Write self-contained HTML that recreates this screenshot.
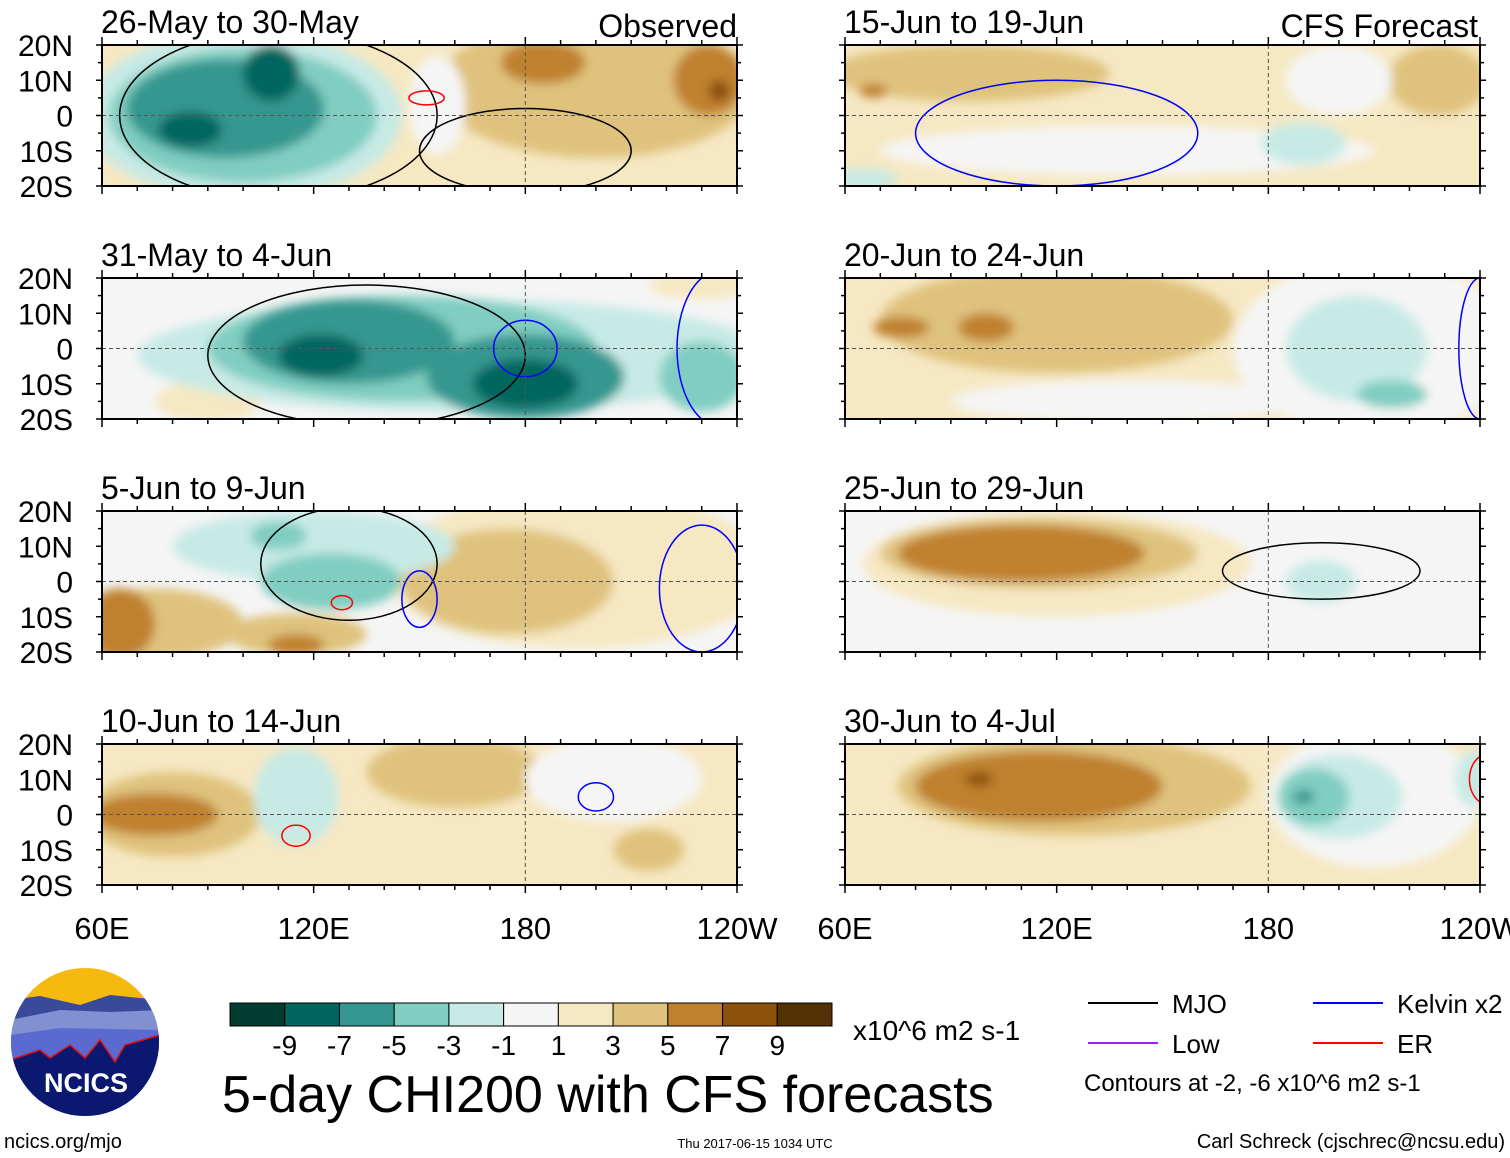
<!DOCTYPE html>
<html><head><meta charset="utf-8"><style>
body{margin:0;background:#fff;width:1510px;height:1158px;overflow:hidden;font-family:"Liberation Sans",sans-serif}
svg{position:absolute;left:0;top:0}
</style></head><body>
<svg id="chart" width="1510" height="1158">
<defs><filter id="blur" x="-20%" y="-20%" width="140%" height="140%"><feGaussianBlur stdDeviation="5"/></filter></defs>
<g id="panels"></g>
<g id="legend"></g>
</svg>
<script>
const levelColors=["#003c30","#01665e","#35978f","#80cdc1","#c7eae5","#f5f5f5","#f6e8c3","#dfc27d","#bf812d","#8c510a","#543005"];
const colorbarTicks=["-9","-7","-5","-3","-1","1","3","5","7","9"];
const latTicks=[20,10,0,-10,-20];
const latLabels=["20N","10N","0","10S","20S"];
const lonTicks=[60,120,180,240];
const lonLabels=["60E","120E","180","120W"];
const panelTitles=["26-May to 30-May","31-May to 4-Jun","5-Jun to 9-Jun","10-Jun to 14-Jun","15-Jun to 19-Jun","20-Jun to 24-Jun","25-Jun to 29-Jun","30-Jun to 4-Jul"];
const panelBg=[6,5,5,6,6,6,5,6];
// anomaly blobs: [lon, lat, lon-radius, lat-radius, level]
const blobs0=[[200,8,45,20,7],[185,15,12,6,8],[232,10,10,10,8],[235,7,3,3,9],[155,3,8,14,5],[100,0,45,24,4],[100,0,38,19,3],[95,2,28,14,2],[85,-4,9,5,1],[108,12,8,8,1]];
const blobs1=[[230,18,15,4,6],[90,-15,15,6,6],[160,-2,90,16,4],[145,0,55,15,3],[130,2,30,12,2],[122,-2,12,6,1],[180,-8,28,12,2],[180,-10,15,7,1],[230,-8,12,10,3]];
const blobs2=[[195,3,55,22,6],[175,0,30,15,7],[75,-12,25,10,7],[65,-12,10,10,8],[115,-15,20,6,7],[115,-18,8,3,8],[120,10,40,10,4],[125,0,20,8,3],[110,13,8,4,3]];
const blobs3=[[80,0,25,12,7],[75,0,18,6,8],[160,12,25,10,7],[215,-10,10,6,7],[205,10,25,12,5],[115,5,12,14,4]];
const blobs4=[[95,12,40,8,7],[68,7,4,2,8],[228,10,14,10,7],[140,-10,70,7,5],[200,10,15,10,5],[190,-8,12,6,4],[65,-18,10,3,4]];
const blobs5=[[120,8,50,15,7],[76,6,8,3,8],[100,6,8,4,8],[140,-15,50,6,5],[210,0,40,25,5],[205,0,20,15,4],[215,-13,10,4,3]];
const blobs6=[[120,5,55,15,6],[115,8,45,10,7],[110,8,35,8,8],[195,0,10,6,4]];
const blobs7=[[125,8,50,14,7],[115,8,35,10,8],[98,10,4,2,9],[210,5,30,20,5],[200,5,18,12,4],[193,5,10,8,3],[190,5,3,2,2],[238,10,5,8,4]];
const allBlobs=[blobs0,blobs1,blobs2,blobs3,blobs4,blobs5,blobs6,blobs7];
// contours: [lon, lat, lon-radius, lat-radius, colour]
const contours0=[[110,0,45,24,'#000'],[180,-10,30,12,'#000'],[152,5,5,2,'#f00']];
const contours1=[[135,-2,45,20,'#000'],[180,0,9,8,'#00f'],[235,0,12,22,'#00f']];
const contours2=[[130,5,25,16,'#000'],[150,-5,5,8,'#00f'],[128,-6,3,2,'#f00'],[230,-2,12,18,'#00f']];
const contours3=[[115,-6,4,3,'#f00'],[200,5,5,4,'#00f']];
const contours4=[[120,-5,40,15,'#00f']];
const contours5=[[240,0,6,20,'#00f']];
const contours6=[[195,3,28,8,'#000']];
const contours7=[[242,10,5,7,'#f00']];
const allContours=[contours0,contours1,contours2,contours3,contours4,contours5,contours6,contours7];

const NS="http://www.w3.org/2000/svg";
function mk(tag,attrs,parent){const e=document.createElementNS(NS,tag);for(const k in attrs)e.setAttribute(k,attrs[k]);parent.appendChild(e);return e;}
const colX=[102,845], rowY=[45,278,511,744], W=635, H=141;
const panels=document.getElementById('panels');
for(let p=0;p<8;p++){
  const x0=colX[p<4?0:1], y0=rowY[p%4];
  const xs=lon=>x0+(lon-60)/180*W, ys=lat=>y0+(20-lat)/40*H;
  const g=mk('g',{},panels);
  
  
  const cp=mk('clipPath',{id:'c'+p},g); mk('rect',{x:x0,y:y0,width:W,height:H},cp);
  const fg=mk('g',{'clip-path':'url(#c'+p+')'},g);
  mk('rect',{x:x0-20,y:y0-20,width:W+40,height:H+40,fill:levelColors[panelBg[p]]},fg);
  const bg=mk('g',{filter:'url(#blur)'},fg);
  allBlobs[p].forEach(b=>{
    const e=mk('ellipse',{cx:xs(b[0]),cy:ys(b[1]),rx:b[2]/180*W,ry:b[3]/40*H,fill:levelColors[b[4]]},bg);
    
    
  });
  allContours[p].forEach(c=>{
    const e=mk('ellipse',{cx:xs(c[0]),cy:ys(c[1]),rx:c[2]/180*W,ry:c[3]/40*H,fill:'none',stroke:c[4],'stroke-width':1.5},fg);
    
    
  });
  mk('line',{x1:x0,x2:x0+W,y1:ys(0),y2:ys(0),stroke:'#555','stroke-dasharray':'4,3','stroke-width':1},fg);
  mk('line',{x1:xs(180),x2:xs(180),y1:y0,y2:y0+H,stroke:'#555','stroke-dasharray':'4,3','stroke-width':1},fg);
  mk('rect',{x:x0,y:y0,width:W,height:H,fill:'none',stroke:'#000','stroke-width':2},g);
  for(let lon=60;lon<=240;lon+=10){const maj=(lon%60===0);const l=maj?8:5;
    mk('line',{x1:xs(lon),x2:xs(lon),y1:y0,y2:y0-l,stroke:'#000','stroke-width':1.5},g);
    mk('line',{x1:xs(lon),x2:xs(lon),y1:y0+H,y2:y0+H+l,stroke:'#000','stroke-width':1.5},g);}
  for(let lat=-20;lat<=20;lat+=5){const l=(lat%10===0)?6:4;
    mk('line',{x1:x0,x2:x0-l,y1:ys(lat),y2:ys(lat),stroke:'#000','stroke-width':1.5},g);
    mk('line',{x1:x0+W,x2:x0+W+l,y1:ys(lat),y2:ys(lat),stroke:'#000','stroke-width':1.5},g);}
  const t=mk('text',{x:x0-1,y:y0-12,'font-size':32},g);t.textContent=panelTitles[p];
  
  
  if(p<4){latTicks.forEach((lat,i)=>{const tt=mk('text',{x:73,y:ys(lat)+11,'font-size':30,'text-anchor':'end'},g);tt.textContent=latLabels[i];
    
    });}
  if(p%4===3){lonTicks.forEach((lon,i)=>{const tt=mk('text',{x:xs(lon),y:939,'font-size':31,'text-anchor':'middle'},g);tt.textContent=lonLabels[i];
    
    });}
}
const lg=document.getElementById('legend');
function txt(s,a){const t=mk('text',a,lg);t.textContent=s;return t;}
txt('Observed',{x:737,y:37,'font-size':32,'text-anchor':'end'});
txt('CFS Forecast',{x:1478,y:37,'font-size':32,'text-anchor':'end'});
const cbw=602/11;
levelColors.forEach((c,i)=>{const r=mk('rect',{x:230+i*cbw,y:1003,width:cbw,height:23,fill:c,stroke:'#000','stroke-width':1},lg);
  
  });
colorbarTicks.forEach((s,i)=>txt(s,{x:230+(i+1)*cbw,y:1055,'font-size':28,'text-anchor':'middle'}));
txt('x10^6 m2 s-1',{x:853,y:1040,'font-size':28});
txt('5-day CHI200 with CFS forecasts',{x:222,y:1112,'font-size':52});
const leg=[['MJO','#000',1088,1003],['Kelvin x2','#0000ff',1313,1003],['Low','#a020f0',1088,1043],['ER','#ff0000',1313,1043]];
leg.forEach(l=>{const ln=mk('line',{x1:l[2],x2:l[2]+70,y1:l[3],y2:l[3],stroke:l[1],'stroke-width':2},lg);
  
  
  txt(l[0],{x:l[2]+84,y:l[3]+10,'font-size':26});});
txt('Contours at -2, -6 x10^6 m2 s-1',{x:1084,y:1091,'font-size':24});
txt('ncics.org/mjo',{x:4,y:1148,'font-size':20});
txt('Thu 2017-06-15 1034 UTC',{x:755,y:1148,'font-size':13,'text-anchor':'middle'});
txt('Carl Schreck (cjschrec@ncsu.edu)',{x:1505,y:1148,'font-size':20,'text-anchor':'end'});
const logo=mk('g',{},lg);


const lcp=mk('clipPath',{id:'lc'},logo);mk('circle',{cx:85,cy:1042,r:74},lcp);
const lgg=mk('g',{'clip-path':'url(#lc)'},logo);
mk('rect',{x:10,y:968,width:150,height:150,fill:'#f5b90f'},lgg);
mk('path',{d:'M10 1000 L40 996 L80 1005 L110 995 L160 1000 L160 1120 L10 1120Z',fill:'#3a4a9a'},lgg);
mk('path',{d:'M10 1020 L60 1010 L110 1012 L160 1010 L160 1120 L10 1120Z',fill:'#8090d0'},lgg);
mk('path',{d:'M10 1035 L60 1028 L160 1030 L160 1120 L10 1120Z',fill:'#5a6ad0'},lgg);
mk('path',{d:'M10 1060 L40 1050 L50 1058 L70 1045 L85 1058 L100 1040 L115 1062 L125 1045 L160 1035 L160 1120 L10 1120Z',fill:'#0a1870',stroke:'#e01010','stroke-width':1.5},lgg);
const lt=mk('text',{x:86,y:1092,'font-size':27,'font-weight':'bold',fill:'#fff','text-anchor':'middle'},logo);lt.textContent='NCICS';
</script>
</body></html>
